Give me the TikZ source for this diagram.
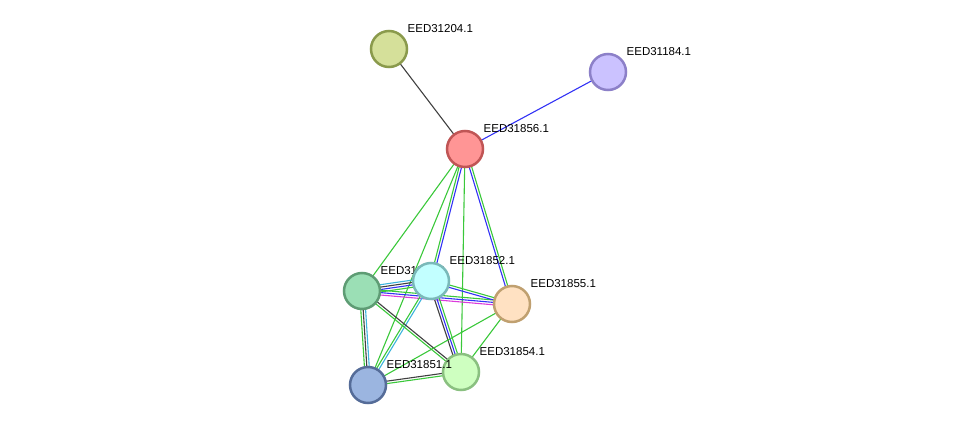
\documentclass[tikz,border=0pt]{standalone}
\usepackage{fontspec}
\setmainfont{Liberation Sans}
\usepackage{tikz}
\usetikzlibrary{
  backgrounds,
  calc,
  positioning,
}
\definecolor{linkgreen}{RGB}{58, 200, 58}
\definecolor{linkblue}{RGB}{50, 50, 245}
\definecolor{linkdark}{RGB}{64, 64, 64}
\definecolor{linkcyan}{RGB}{60, 180, 220}
\definecolor{linkpink}{RGB}{220, 60, 220}
\tikzstyle{prot} = [
  circle,
  minimum size=36pt,
  inner sep=0pt,
  line width=2.5pt,
]
\tikzstyle{lbl} = [
  anchor=base west,
  inner sep=0pt,
  xshift=18.5pt,
  yshift=16.5pt,
  font=\fontsize{11.5}{12}\selectfont,
]
\tikzstyle{link} = [line width=1.1pt]
% one of several parallel lines between two nodes
\newcommand\plink[4]{\draw[link,#4] ($(#1)!#3!90:(#2)$) -- ($(#2)!#3!-90:(#1)$);}

\begin{document}
\begin{tikzpicture}[x=1pt,y=-1pt]
    \useasboundingbox (0,0) rectangle (975,431);

    % proteins
    \node[prot,draw={rgb,255:red,138;green,154;blue,76},fill={rgb,255:red,213;green,224;blue,154}] (n204) at (389,49) {};
    \node[lbl] (l204) at (n204) {EED31204.1};
    \node[prot,draw={rgb,255:red,140;green,128;blue,200},fill={rgb,255:red,203;green,194;blue,255}] (n184) at (608,72) {};
    \node[lbl] (l184) at (n184) {EED31184.1};
    \node[prot,draw={rgb,255:red,192;green,85;blue,85},fill={rgb,255:red,255;green,149;blue,149}] (n856) at (465,149) {};
    \node[lbl] (l856) at (n856) {EED31856.1};
    \node[prot,draw={rgb,255:red,94;green,156;blue,116},fill={rgb,255:red,155;green,223;blue,181}] (n853) at (362,291) {};
    \node[lbl] (l853) at (n853) {EED31853.1};
    \node[prot,draw={rgb,255:red,122;green,185;blue,185},fill={rgb,255:red,194;green,255;blue,255}] (n852) at (431,281) {};
    \node[lbl] (l852) at (n852) {EED31852.1};
    \node[prot,draw={rgb,255:red,192;green,160;blue,112},fill={rgb,255:red,255;green,225;blue,194}] (n855) at (512,304) {};
    \node[lbl] (l855) at (n855) {EED31855.1};
    \node[prot,draw={rgb,255:red,138;green,192;blue,128},fill={rgb,255:red,206;green,255;blue,192}] (n854) at (461,372) {};
    \node[lbl] (l854) at (n854) {EED31854.1};
    \node[prot,draw={rgb,255:red,85;green,108;blue,152},fill={rgb,255:red,155;green,181;blue,224}] (n851) at (368,385) {};
    \node[lbl] (l851) at (n851) {EED31851.1};

    % links
    \begin{scope}[on background layer]
    \plink{n204}{n856}{0pt}{linkdark}
    \plink{n184}{n856}{0pt}{linkblue}
    \plink{n856}{n853}{0pt}{linkgreen}
    \plink{n856}{n851}{0pt}{linkgreen}
    \plink{n856}{n854}{0pt}{linkgreen}
    \plink{n856}{n852}{-1.2pt}{linkgreen}
    \plink{n856}{n852}{1.2pt}{linkblue}
    \plink{n856}{n855}{-1.2pt}{linkblue}
    \plink{n856}{n855}{1.2pt}{linkgreen}
    \plink{n853}{n852}{3.6pt}{linkcyan}
    \plink{n853}{n852}{1.2pt}{linkdark}
    \plink{n853}{n852}{-1.2pt}{linkblue}
    \plink{n853}{n852}{-3.6pt}{linkgreen}
    \plink{n853}{n855}{2.4pt}{linkgreen}
    \plink{n853}{n855}{0pt}{linkblue}
    \plink{n853}{n855}{-2.4pt}{linkpink}
    \plink{n852}{n855}{1.2pt}{linkgreen}
    \plink{n852}{n855}{-1.2pt}{linkblue}
    \plink{n853}{n851}{2.4pt}{linkcyan}
    \plink{n853}{n851}{0pt}{linkdark}
    \plink{n853}{n851}{-2.4pt}{linkgreen}
    \plink{n852}{n854}{2.4pt}{linkgreen}
    \plink{n852}{n854}{0pt}{linkblue}
    \plink{n852}{n854}{-2.4pt}{linkdark}
    \plink{n852}{n851}{1.2pt}{linkcyan}
    \plink{n852}{n851}{-1.2pt}{linkgreen}
    \plink{n853}{n854}{1.2pt}{linkdark}
    \plink{n853}{n854}{-1.2pt}{linkgreen}
    \plink{n851}{n854}{1.2pt}{linkdark}
    \plink{n851}{n854}{-1.2pt}{linkgreen}
    \plink{n855}{n851}{0pt}{linkgreen}
    \plink{n855}{n854}{0pt}{linkgreen}
    \end{scope}
\end{tikzpicture}
\end{document}
